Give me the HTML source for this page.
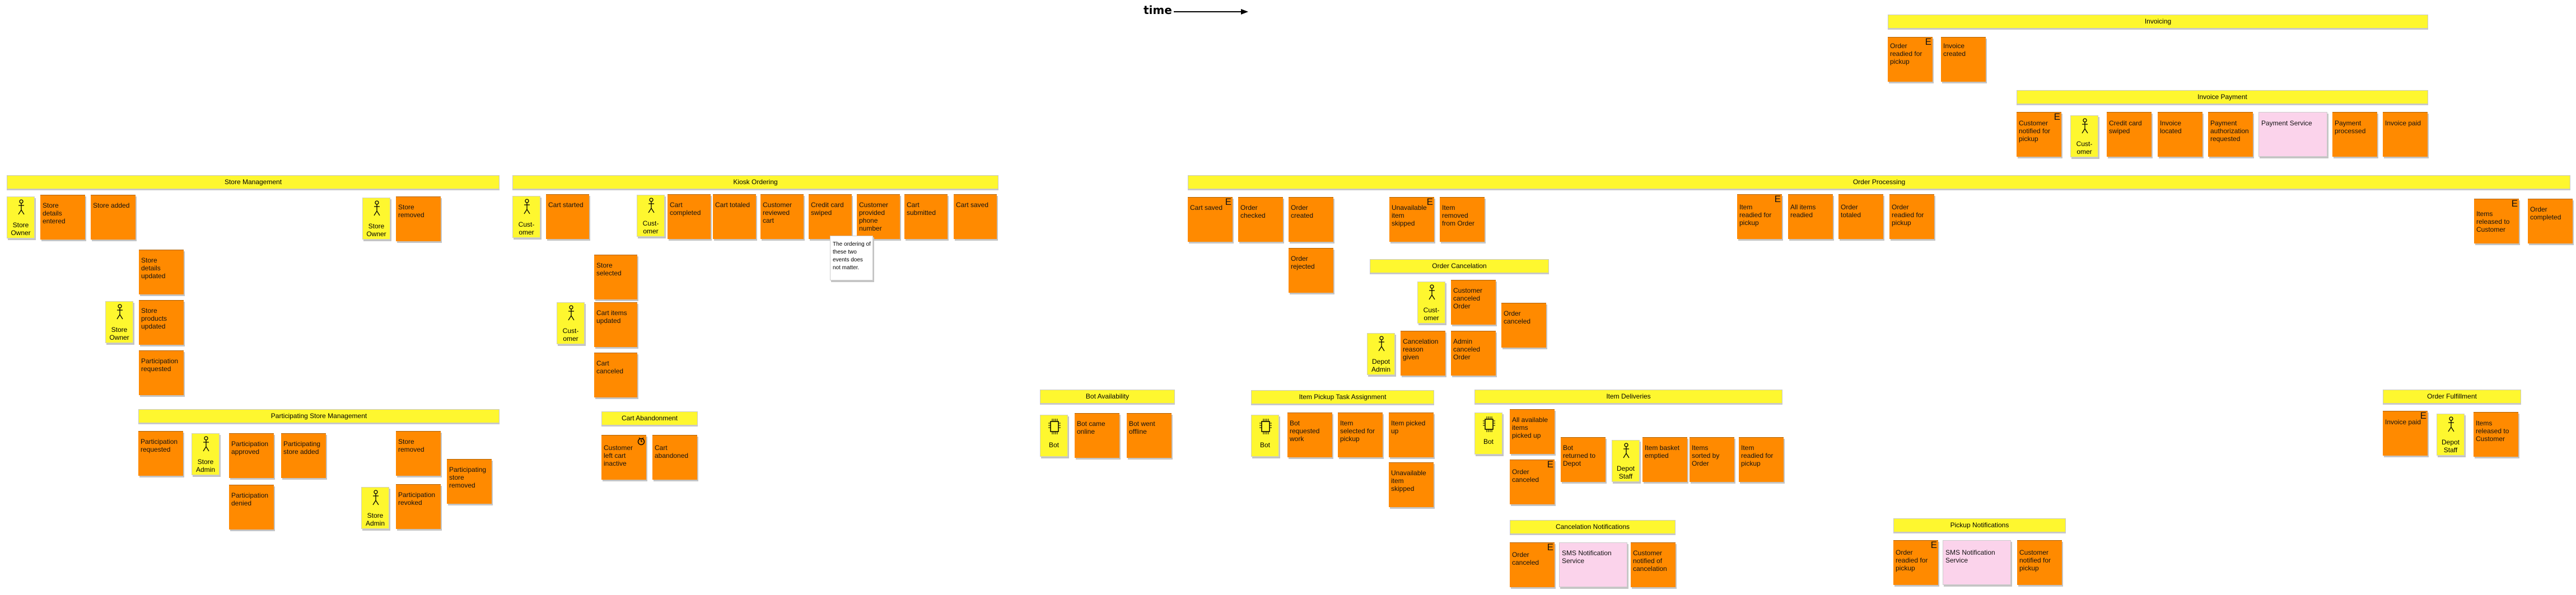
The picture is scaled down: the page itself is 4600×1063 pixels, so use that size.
<!DOCTYPE html>
<html><head><meta charset="utf-8"><style>
body{margin:0;width:4600px;height:1063px;background:#fff;position:relative;overflow:hidden;font-family:"Liberation Sans",sans-serif;}
div{position:absolute;box-sizing:border-box;}
.b{height:25px;background:#fef72f;border:1px solid #c8c8c8;box-shadow:0 2px 0 #c8c8c8;font-size:12px;text-align:center;line-height:23px;color:#000;}
.c{width:80px;height:80px;background:#ff8a00;border-top:1px solid #b06000;box-shadow:2px 3px 0 #c4c4c4;font-size:12px;line-height:14px;padding:11px 3px 0 4px;color:#111;}
.p{width:122px;height:80px;background:#fbd3eb;border:1px solid #ccc;box-shadow:2px 3px 0 #c4c4c4;font-size:12px;line-height:14px;padding:11px 3px 0 4px;color:#111;}
.n{width:77px;height:80px;background:#fff;border:1px solid #ccc;box-shadow:2px 3px 0 #c4c4c4;font-size:10px;line-height:14px;padding:8px 3px 0 4px;}
.a{width:50px;height:75px;background:#fef72f;border:1px solid #d0d0c0;box-shadow:2px 3px 0 #c4c4c4;font-size:12px;line-height:14px;text-align:center;padding-top:43px;}
.a svg{position:absolute;left:17px;top:4px;}
.bot svg{left:13px;top:5px;}
.e{position:absolute;right:2px;top:-1px;font-size:17px;line-height:17px;}
</style></head><body>
<div style="left:2042px;top:6px;font-size:20px;font-weight:bold;font-family:'DejaVu Sans',sans-serif;">time</div>
<svg style="position:absolute;left:2096px;top:14px" width="136" height="14"><line x1="0" y1="7" x2="122" y2="7" stroke="#000" stroke-width="2"/><polygon points="120,2 133,7 120,12" fill="#000"/></svg>

<!-- Store Management -->
<div class="b" style="left:12px;top:313px;width:880px">Store Management</div>
<div class="a" style="left:12px;top:351px"><svg width="16" height="28"><circle cx="8" cy="4" r="3" fill="none" stroke="#000" stroke-width="1.3"/><path d="M8 7V19M3 11H13M8 19L3 27M8 19L13 27" stroke="#000" stroke-width="1.3" fill="none"/></svg>Store<br>Owner</div>
<div class="c" style="left:72px;top:348px">Store<br>details<br>entered</div>
<div class="c" style="left:162px;top:348px">Store added</div>
<div class="a" style="left:647px;top:353px"><svg width="16" height="28"><circle cx="8" cy="4" r="3" fill="none" stroke="#000" stroke-width="1.3"/><path d="M8 7V19M3 11H13M8 19L3 27M8 19L13 27" stroke="#000" stroke-width="1.3" fill="none"/></svg>Store<br>Owner</div>
<div class="c" style="left:707px;top:351px">Store<br>removed</div>
<div class="c" style="left:248px;top:446px">Store<br>details<br>updated</div>
<div class="a" style="left:188px;top:538px"><svg width="16" height="28"><circle cx="8" cy="4" r="3" fill="none" stroke="#000" stroke-width="1.3"/><path d="M8 7V19M3 11H13M8 19L3 27M8 19L13 27" stroke="#000" stroke-width="1.3" fill="none"/></svg>Store<br>Owner</div>
<div class="c" style="left:248px;top:536px">Store<br>products<br>updated</div>
<div class="c" style="left:248px;top:626px">Participation requested</div>

<!-- Participating -->
<div class="b" style="left:247px;top:731px;width:645px">Participating Store Management</div>
<div class="c" style="left:247px;top:770px">Participation requested</div>
<div class="a" style="left:342px;top:774px"><svg width="16" height="28"><circle cx="8" cy="4" r="3" fill="none" stroke="#000" stroke-width="1.3"/><path d="M8 7V19M3 11H13M8 19L3 27M8 19L13 27" stroke="#000" stroke-width="1.3" fill="none"/></svg>Store<br>Admin</div>
<div class="c" style="left:409px;top:774px">Participation approved</div>
<div class="c" style="left:502px;top:774px">Participating<br>store added</div>
<div class="c" style="left:409px;top:866px">Participation denied</div>
<div class="c" style="left:707px;top:770px">Store<br>removed</div>
<div class="c" style="left:798px;top:820px">Participating<br>store<br>removed</div>
<div class="a" style="left:645px;top:870px"><svg width="16" height="28"><circle cx="8" cy="4" r="3" fill="none" stroke="#000" stroke-width="1.3"/><path d="M8 7V19M3 11H13M8 19L3 27M8 19L13 27" stroke="#000" stroke-width="1.3" fill="none"/></svg>Store<br>Admin</div>
<div class="c" style="left:707px;top:865px">Participation revoked</div>

<!-- Kiosk -->
<div class="b" style="left:915px;top:313px;width:868px">Kiosk Ordering</div>
<div class="a" style="left:915px;top:350px"><svg width="16" height="28"><circle cx="8" cy="4" r="3" fill="none" stroke="#000" stroke-width="1.3"/><path d="M8 7V19M3 11H13M8 19L3 27M8 19L13 27" stroke="#000" stroke-width="1.3" fill="none"/></svg>Cust-<br>omer</div>
<div class="c" style="left:975px;top:347px;width:77px">Cart started</div>
<div class="a" style="left:1137px;top:348px"><svg width="16" height="28"><circle cx="8" cy="4" r="3" fill="none" stroke="#000" stroke-width="1.3"/><path d="M8 7V19M3 11H13M8 19L3 27M8 19L13 27" stroke="#000" stroke-width="1.3" fill="none"/></svg>Cust-<br>omer</div>
<div class="c" style="left:1192px;top:347px;width:77px">Cart<br>completed</div>
<div class="c" style="left:1273px;top:347px;width:77px">Cart totaled</div>
<div class="c" style="left:1358px;top:347px;width:77px">Customer<br>reviewed<br>cart</div>
<div class="c" style="left:1444px;top:347px;width:77px">Credit card<br>swiped</div>
<div class="c" style="left:1530px;top:347px;width:77px">Customer<br>provided<br>phone<br>number</div>
<div class="c" style="left:1615px;top:347px;width:77px">Cart<br>submitted</div>
<div class="c" style="left:1703px;top:347px;width:77px">Cart saved</div>
<div class="n" style="left:1482px;top:421px">The ordering of these two events does not matter.</div>
<div class="c" style="left:1061px;top:455px;width:77px">Store<br>selected</div>
<div class="a" style="left:994px;top:540px"><svg width="16" height="28"><circle cx="8" cy="4" r="3" fill="none" stroke="#000" stroke-width="1.3"/><path d="M8 7V19M3 11H13M8 19L3 27M8 19L13 27" stroke="#000" stroke-width="1.3" fill="none"/></svg>Cust-<br>omer</div>
<div class="c" style="left:1061px;top:540px;width:77px">Cart items<br>updated</div>
<div class="c" style="left:1061px;top:630px;width:77px">Cart<br>canceled</div>
<div class="b" style="left:1074px;top:735px;width:172px">Cart Abandonment</div>
<div class="c" style="left:1074px;top:777px;padding-top:15px">Customer<br>left cart<br>inactive<svg style="position:absolute;right:2px;top:2px" width="14" height="16"><circle cx="7" cy="9" r="5.5" fill="none" stroke="#000" stroke-width="1.5"/><path d="M7 9V5M7 9H9M3 2L5 4M11 2L9 4" stroke="#000" stroke-width="1.3"/></svg></div>
<div class="c" style="left:1165px;top:777px;padding-top:15px">Cart<br>abandoned</div>

<!-- Order Processing -->
<div class="b" style="left:2121px;top:313px;width:2469px">Order Processing</div>
<div class="c" style="left:2121px;top:352px">Cart saved<span class="e">E</span></div>
<div class="c" style="left:2211px;top:352px">Order<br>checked</div>
<div class="c" style="left:2301px;top:352px">Order<br>created</div>
<div class="c" style="left:2301px;top:443px">Order<br>rejected</div>
<div class="c" style="left:2481px;top:352px">Unavailable<br>item<br>skipped<span class="e">E</span></div>
<div class="c" style="left:2571px;top:352px">Item<br>removed<br>from Order</div>
<div class="c" style="left:3102px;top:347px;padding-top:15px">Item<br>readied for<br>pickup<span class="e">E</span></div>
<div class="c" style="left:3193px;top:347px;padding-top:15px">All items<br>readied</div>
<div class="c" style="left:3283px;top:347px;padding-top:15px">Order<br>totaled</div>
<div class="c" style="left:3374px;top:347px;padding-top:15px">Order<br>readied for<br>pickup</div>
<div class="c" style="left:4418px;top:355px;padding-top:19px">Items<br>released to<br>Customer<span class="e">E</span></div>
<div class="c" style="left:4514px;top:355px">Order<br>completed</div>

<div class="b" style="left:2446px;top:463px;width:320px">Order Cancelation</div>
<div class="a" style="left:2531px;top:503px"><svg width="16" height="28"><circle cx="8" cy="4" r="3" fill="none" stroke="#000" stroke-width="1.3"/><path d="M8 7V19M3 11H13M8 19L3 27M8 19L13 27" stroke="#000" stroke-width="1.3" fill="none"/></svg>Cust-<br>omer</div>
<div class="c" style="left:2591px;top:500px">Customer<br>canceled<br>Order</div>
<div class="c" style="left:2681px;top:541px">Order<br>canceled</div>
<div class="a" style="left:2441px;top:595px"><svg width="16" height="28"><circle cx="8" cy="4" r="3" fill="none" stroke="#000" stroke-width="1.3"/><path d="M8 7V19M3 11H13M8 19L3 27M8 19L13 27" stroke="#000" stroke-width="1.3" fill="none"/></svg>Depot<br>Admin</div>
<div class="c" style="left:2501px;top:591px">Cancelation<br>reason<br>given</div>
<div class="c" style="left:2591px;top:591px">Admin<br>canceled<br>Order</div>

<!-- Bot Availability -->
<div class="b" style="left:1857px;top:696px;width:241px">Bot Availability</div>
<div class="a bot" style="left:1857px;top:741px;padding-top:46px"><svg width="24" height="30"><rect x="5" y="6" width="14" height="18" fill="none" stroke="#000" stroke-width="1.5"/><path d="M8 1V6M11 1V6M14 1V6M17 1V6M8 24V29M11 24V29M14 24V29M17 24V29M1 9H5M1 13H5M1 17H5M19 9H23M19 13H23M19 17H23" stroke="#000" stroke-width="1"/></svg>Bot</div>
<div class="c" style="left:1919px;top:738px">Bot came<br>online</div>
<div class="c" style="left:2012px;top:738px">Bot went<br>offline</div>

<!-- Item Pickup -->
<div class="b" style="left:2234px;top:697px;width:327px">Item Pickup Task Assignment</div>
<div class="a bot" style="left:2234px;top:741px;padding-top:46px"><svg width="24" height="30"><rect x="5" y="6" width="14" height="18" fill="none" stroke="#000" stroke-width="1.5"/><path d="M8 1V6M11 1V6M14 1V6M17 1V6M8 24V29M11 24V29M14 24V29M17 24V29M1 9H5M1 13H5M1 17H5M19 9H23M19 13H23M19 17H23" stroke="#000" stroke-width="1"/></svg>Bot</div>
<div class="c" style="left:2299px;top:737px">Bot<br>requested<br>work</div>
<div class="c" style="left:2389px;top:737px">Item<br>selected for<br>pickup</div>
<div class="c" style="left:2480px;top:737px">Item picked<br>up</div>
<div class="c" style="left:2480px;top:826px">Unavailable<br>item<br>skipped</div>

<!-- Item Deliveries -->
<div class="b" style="left:2633px;top:696px;width:550px">Item Deliveries</div>
<div class="a bot" style="left:2633px;top:737px;padding-top:44px"><svg width="24" height="30"><rect x="5" y="6" width="14" height="18" fill="none" stroke="#000" stroke-width="1.5"/><path d="M8 1V6M11 1V6M14 1V6M17 1V6M8 24V29M11 24V29M14 24V29M17 24V29M1 9H5M1 13H5M1 17H5M19 9H23M19 13H23M19 17H23" stroke="#000" stroke-width="1"/></svg>Bot</div>
<div class="c" style="left:2696px;top:731px">All available<br>items<br>picked up</div>
<div class="c" style="left:2696px;top:821px;padding-top:14px">Order<br>canceled<span class="e">E</span></div>
<div class="c" style="left:2787px;top:781px">Bot<br>returned to<br>Depot</div>
<div class="a" style="left:2878px;top:786px"><svg width="16" height="28"><circle cx="8" cy="4" r="3" fill="none" stroke="#000" stroke-width="1.3"/><path d="M8 7V19M3 11H13M8 19L3 27M8 19L13 27" stroke="#000" stroke-width="1.3" fill="none"/></svg>Depot<br>Staff</div>
<div class="c" style="left:2933px;top:781px">Item basket<br>emptied</div>
<div class="c" style="left:3017px;top:781px">Items<br>sorted by<br>Order</div>
<div class="c" style="left:3105px;top:781px">Item<br>readied for<br>pickup</div>

<div class="b" style="left:2696px;top:929px;width:296px">Cancelation Notifications</div>
<div class="c" style="left:2696px;top:969px;padding-top:14px">Order<br>canceled<span class="e">E</span></div>
<div class="p" style="left:2784px;top:969px">SMS Notification<br>Service</div>
<div class="c" style="left:2912px;top:969px">Customer<br>notified of<br>cancelation</div>

<!-- Invoicing -->
<div class="b" style="left:3371px;top:26px;width:965px">Invoicing</div>
<div class="c" style="left:3371px;top:66px;padding-top:8px">Order<br>readied for<br>pickup<span class="e">E</span></div>
<div class="c" style="left:3466px;top:66px;padding-top:8px">Invoice<br>created</div>
<div class="b" style="left:3601px;top:161px;width:735px">Invoice Payment</div>
<div class="c" style="left:3601px;top:200px;padding-top:12px">Customer<br>notified for<br>pickup<span class="e">E</span></div>
<div class="a" style="left:3697px;top:206px"><svg width="16" height="28"><circle cx="8" cy="4" r="3" fill="none" stroke="#000" stroke-width="1.3"/><path d="M8 7V19M3 11H13M8 19L3 27M8 19L13 27" stroke="#000" stroke-width="1.3" fill="none"/></svg>Cust-<br>omer</div>
<div class="c" style="left:3762px;top:200px;padding-top:12px">Credit card<br>swiped</div>
<div class="c" style="left:3853px;top:200px;padding-top:12px">Invoice<br>located</div>
<div class="c" style="left:3943px;top:200px;padding-top:12px">Payment<br>authorization<br>requested</div>
<div class="p" style="left:4033px;top:200px;width:123px;padding-top:12px">Payment Service</div>
<div class="c" style="left:4165px;top:200px;padding-top:12px">Payment<br>processed</div>
<div class="c" style="left:4255px;top:200px;padding-top:12px">Invoice paid</div>

<!-- Order Fulfillment -->
<div class="b" style="left:4255px;top:696px;width:247px">Order Fulfillment</div>
<div class="c" style="left:4255px;top:734px;padding-top:12px">Invoice paid<span class="e">E</span></div>
<div class="a" style="left:4351px;top:739px"><svg width="16" height="28"><circle cx="8" cy="4" r="3" fill="none" stroke="#000" stroke-width="1.3"/><path d="M8 7V19M3 11H13M8 19L3 27M8 19L13 27" stroke="#000" stroke-width="1.3" fill="none"/></svg>Depot<br>Staff</div>
<div class="c" style="left:4417px;top:736px;padding-top:12px">Items<br>released to<br>Customer</div>

<!-- Pickup Notifications -->
<div class="b" style="left:3381px;top:926px;width:308px">Pickup Notifications</div>
<div class="c" style="left:3381px;top:965px;padding-top:14px">Order<br>readied for<br>pickup<span class="e">E</span></div>
<div class="p" style="left:3469px;top:965px;padding-top:14px">SMS Notification<br>Service</div>
<div class="c" style="left:3602px;top:965px;padding-top:14px">Customer<br>notified for<br>pickup</div>
</body></html>
